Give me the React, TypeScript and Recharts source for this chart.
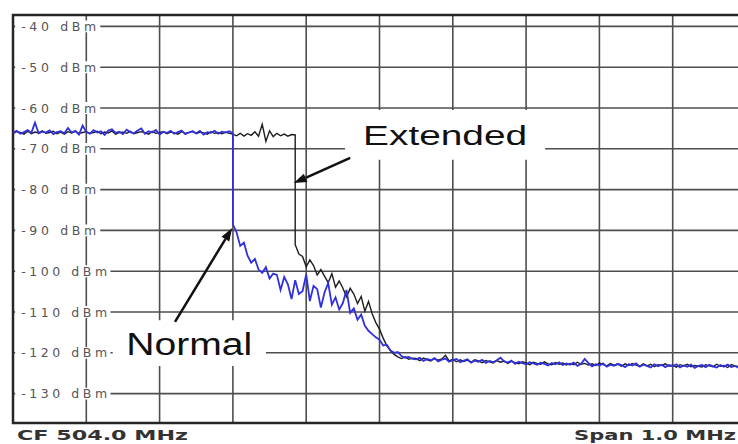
import {
  LineChart,
  Line,
  XAxis,
  YAxis,
  CartesianGrid,
  ReferenceArea,
  ReferenceLine,
} from 'recharts';

// offset from CF 504.0 MHz, kHz (span 1.0 MHz)
const freqKHz = [
  -500, -495, -490, -485, -480, -475, -470, -465, -460, -455,
  -450, -445, -440, -435, -430, -425, -420, -415, -410, -405,
  -400, -395, -390, -385, -380, -375, -370, -365, -360, -355,
  -350, -345, -340, -335, -330, -325, -320, -315, -310, -305,
  -300, -295, -290, -285, -280, -275, -270, -265, -260, -255,
  -250, -245, -240, -235, -230, -225, -220, -215, -210, -205,
  -200, -200,
  -195, -190, -185, -180, -175, -170, -165, -160, -155, -150,
  -145, -140, -135, -130, -125, -120, -115, -115,
  -110, -105, -100, -95, -90, -85, -80, -75, -70, -65,
  -60, -55, -50, -45, -40, -35, -30, -25, -20, -15,
  -10, -5, 0, 5, 10, 15, 20, 25, 30, 35,
  40, 45, 50, 55, 60, 65, 70, 75, 80, 85,
  90, 95, 100, 105, 110, 115, 120, 125, 130, 135,
  140, 145, 150, 155, 160, 165, 170, 175, 180, 185,
  190, 195, 200, 205, 210, 215, 220, 225, 230, 235,
  240, 245, 250, 255, 260, 265, 270, 275, 280, 285,
  290, 295, 300, 305, 310, 315, 320, 325, 330, 335,
  340, 345, 350, 355, 360, 365, 370, 375, 380, 385,
  390, 395, 400, 405, 410, 415, 420, 425, 430, 435,
  440, 445, 450, 455, 460, 465, 470, 475, 480, 485,
  490, 495, 500,
];

const normalDbm = [
  -66.0, -65.6, -66.3, -65.9, -65.4, -66.1, -63.6, -66.2, -65.8, -66.0,
  -65.5, -66.4, -65.9, -65.7, -66.2, -64.9, -66.0, -65.6, -66.5, -64.3,
  -65.9, -66.3, -65.4, -66.0, -65.7, -66.6, -65.5, -65.2, -66.1, -65.8,
  -66.4, -65.3, -65.9, -66.2, -65.5, -65.0, -66.3, -65.7, -66.0, -65.4,
  -66.5, -65.8, -66.1, -65.6, -66.3, -65.9, -65.5, -66.4, -66.0, -65.7,
  -66.2, -65.6, -66.5, -65.9, -66.1, -65.6, -66.3, -65.8, -66.0, -65.7,
  -66.2, -88.5,
  -90.5, -93.8, -93.0, -96.2, -97.9, -97.0, -99.6, -100.4, -99.0, -101.8,
  -100.6, -100.9, -104.6, -101.4, -103.2, -106.8, -102.2, -102.2,
  -105.6, -104.9, -100.8, -107.3, -103.6, -104.4, -108.9, -105.2, -102.9, -108.2,
  -106.4, -109.4, -107.8, -104.6, -110.2, -109.1, -111.9, -110.6, -113.4, -114.6,
  -115.4, -116.2, -116.8, -118.2, -118.0, -119.4, -120.0, -119.8, -120.8, -121.2,
  -121.0, -121.5, -121.6, -121.2, -122.0, -121.5, -121.8, -121.3, -122.1, -121.7,
  -121.4, -122.2, -121.8, -121.5, -122.3, -121.9, -121.6, -122.4, -121.9, -122.2,
  -121.7, -122.5, -122.0, -122.3, -121.8, -121.2, -122.1, -122.4, -121.9, -122.7,
  -122.2, -122.5, -122.8, -122.3, -122.6, -122.9, -122.4, -122.7, -123.1, -122.5,
  -122.8, -122.3, -123.0, -122.6, -122.9, -122.4, -123.2, -122.7, -121.5, -122.5,
  -123.3, -122.8, -123.1, -122.6, -123.4, -122.9, -123.2, -122.7, -123.0, -123.5,
  -122.8, -123.1, -122.6, -123.4, -122.9, -123.2, -123.6, -122.8, -123.3, -122.9,
  -123.5, -123.0, -123.3, -122.8, -123.6, -123.1, -123.4, -122.9, -123.7, -123.2,
  -123.0, -123.5, -122.9, -123.3, -123.6, -123.0, -123.4, -122.9, -123.5, -123.2,
  -123.7, -123.1, -123.4,
];

const extendedDbm = [
  -66.2, -65.8, -66.0, -66.4, -65.7, -66.3, -65.9, -66.1, -65.6, -66.2,
  -66.0, -65.7, -66.3, -65.9, -66.4, -65.8, -66.1, -65.7, -66.2, -66.0,
  -65.8, -66.2, -66.0, -65.7, -66.3, -65.9, -66.1, -65.6, -66.4, -66.0,
  -65.9, -66.2, -65.7, -66.3, -66.0, -65.8, -66.1, -66.4, -65.7, -66.2,
  -66.0, -65.8, -66.3, -65.9, -66.1, -66.4, -65.8, -66.2, -66.0, -65.7,
  -66.3, -65.9, -66.1, -66.4, -65.8, -66.2, -66.0, -66.3, -65.9, -66.2,
  -66.4, -66.4,
  -66.8, -66.2, -66.9, -66.3, -66.7, -65.8, -66.9, -64.0, -68.2, -65.6,
  -67.0, -66.2, -66.8, -66.4, -66.9, -66.5, -66.6, -93.5,
  -95.8, -96.4, -98.9, -97.2, -98.6, -100.9, -99.6, -101.2, -102.8, -100.6,
  -103.9, -102.4, -104.1, -106.3, -104.2, -105.6, -107.9, -106.2, -109.8, -107.4,
  -110.4, -112.6, -114.2, -116.4, -118.3, -119.5, -120.4, -121.0, -121.4, -121.0,
  -121.6, -121.3, -121.4, -121.9, -121.3, -121.7, -122.0, -121.4, -121.8, -121.5,
  -120.6, -122.0, -121.6, -122.2, -121.7, -122.1, -121.8, -122.3, -121.7, -122.0,
  -122.4, -121.9, -122.2, -122.5, -121.9, -122.3, -122.0, -122.6, -122.1, -122.4,
  -122.7, -122.2, -122.5, -122.9, -122.3, -122.6, -122.8, -122.2, -122.7, -122.9,
  -122.4, -122.8, -122.5, -123.0, -122.6, -122.9, -122.3, -122.8, -122.6, -123.0,
  -122.7, -123.1, -122.5, -122.9, -123.2, -122.6, -123.0, -122.8, -123.3, -122.7,
  -123.1, -122.6, -123.0, -123.3, -122.7, -123.2, -122.8, -123.4, -122.9, -123.1,
  -122.7, -123.3, -123.0, -123.5, -122.9, -123.2, -122.8, -123.4, -123.1, -123.3,
  -123.5, -122.9, -123.2, -123.4, -122.8, -123.3, -123.1, -123.6, -122.9, -123.2,
  -123.4, -123.0, -123.3,
];

const xDivisions = [-500, -400, -300, -200, -100, 0, 100, 200, 300, 400, 500];
const yTicks = [-40, -50, -60, -70, -80, -90, -100, -110, -120, -130];
const yDomain = [-137.2, -37.2];

const data = freqKHz.map((f, i) => ({
  f,
  normal: normalDbm[i],
  extended: extendedDbm[i],
}));

const PLOT_LEFT = 13;
const GRID = '#4e4e4e';

function dbmLabel(value: number) {
  return (props: any) => {
    const { x, y, height } = props.viewBox;
    const w = value <= -100 ? 86 : 75;
    return (
      <text
        x={x + 6}
        y={y + height / 2 + 4.5}
        fontSize={12.5}
        fontFamily="DejaVu Sans"
        fill="#555"
        textLength={w}
        lengthAdjust="spacing"
      >
        {`${value} dBm`}
      </text>
    );
  };
}

function arrowShape(props: any) {
  const { x1, y1, x2, y2 } = props;
  const a = Math.atan2(y2 - y1, x2 - x1);
  const len = 13;
  const half = 4.5;
  const bx = x2 - len * Math.cos(a);
  const by = y2 - len * Math.sin(a);
  const px = -Math.sin(a) * half;
  const py = Math.cos(a) * half;
  return (
    <g>
      <line x1={x1} y1={y1} x2={bx} y2={by} stroke="#111" strokeWidth={2.5} />
      <polygon
        points={`${x2},${y2} ${bx + px},${by + py} ${bx - px},${by - py}`}
        fill="#111"
      />
    </g>
  );
}

function boxLabel(text: string, size: number, length: number) {
  return (props: any) => {
    const { x, y, width, height } = props.viewBox;
    return (
      <text
        x={x + width / 2}
        y={y + height / 2 + size * 0.38}
        textAnchor="middle"
        fontSize={size}
        fontFamily="Liberation Sans"
        fill="#111"
        textLength={length}
        lengthAdjust="spacingAndGlyphs"
      >
        {text}
      </text>
    );
  };
}

export default function App() {
  return (
    <div
      style={{
        position: 'absolute',
        left: 0,
        top: 0,
        width: 738,
        height: 444,
        overflow: 'hidden',
        background: '#fff',
      }}
    >
      <LineChart
        width={760}
        height={444}
        data={data}
        margin={{ top: 15, right: 14, bottom: 21, left: PLOT_LEFT }}
      >
        <CartesianGrid stroke={GRID} strokeWidth={1.6} />
        <XAxis
          dataKey="f"
          type="number"
          domain={[-500, 500]}
          ticks={xDivisions}
          hide
        />
        <YAxis type="number" domain={yDomain} ticks={yTicks} hide />
        {yTicks.map((v) => (
          <ReferenceArea
            key={v}
            x1={-497}
            x2={v <= -100 ? -367 : -381}
            y1={v - 1.45}
            y2={v + 1.45}
            fill="#fff"
            fillOpacity={1}
            label={dbmLabel(v)}
          />
        ))}
        <Line
          dataKey="extended"
          stroke="#1e1e1e"
          strokeWidth={1.4}
          dot={false}
          isAnimationActive={false}
        />
        <Line
          dataKey="normal"
          stroke="#3030dc"
          strokeWidth={1.8}
          dot={false}
          isAnimationActive={false}
        />
        <ReferenceArea
          x1={-500}
          x2={500}
          y1={yDomain[0]}
          y2={yDomain[1]}
          fill="none"
          stroke="#262626"
          strokeWidth={2.5}
        />
        <ReferenceArea
          x1={-364}
          x2={-155}
          y1={-123.2}
          y2={-112}
          fill="#fff"
          fillOpacity={1}
          label={boxLabel('Normal', 31, 126)}
        />
        <ReferenceArea
          x1={-47}
          x2={226}
          y1={-72.7}
          y2={-60.5}
          fill="#fff"
          fillOpacity={1}
          label={boxLabel('Extended', 27, 164)}
        />
        <ReferenceLine
          segment={[
            { x: -279, y: -112.4 },
            { x: -201, y: -89.4 },
          ]}
          shape={arrowShape}
        />
        <ReferenceLine
          segment={[
            { x: -40, y: -72.2 },
            { x: -117, y: -78.4 },
          ]}
          shape={arrowShape}
        />
        <text
          x={17}
          y={440}
          fontSize={14}
          fontWeight="bold"
          fontFamily="DejaVu Sans"
          fill="#333"
          textLength={171}
          lengthAdjust="spacingAndGlyphs"
        >
          CF 504.0 MHz
        </text>
        <text
          x={736}
          y={440}
          textAnchor="end"
          fontSize={14}
          fontWeight="bold"
          fontFamily="DejaVu Sans"
          fill="#333"
          textLength={162}
          lengthAdjust="spacingAndGlyphs"
        >
          Span 1.0 MHz
        </text>
      </LineChart>
    </div>
  );
}
